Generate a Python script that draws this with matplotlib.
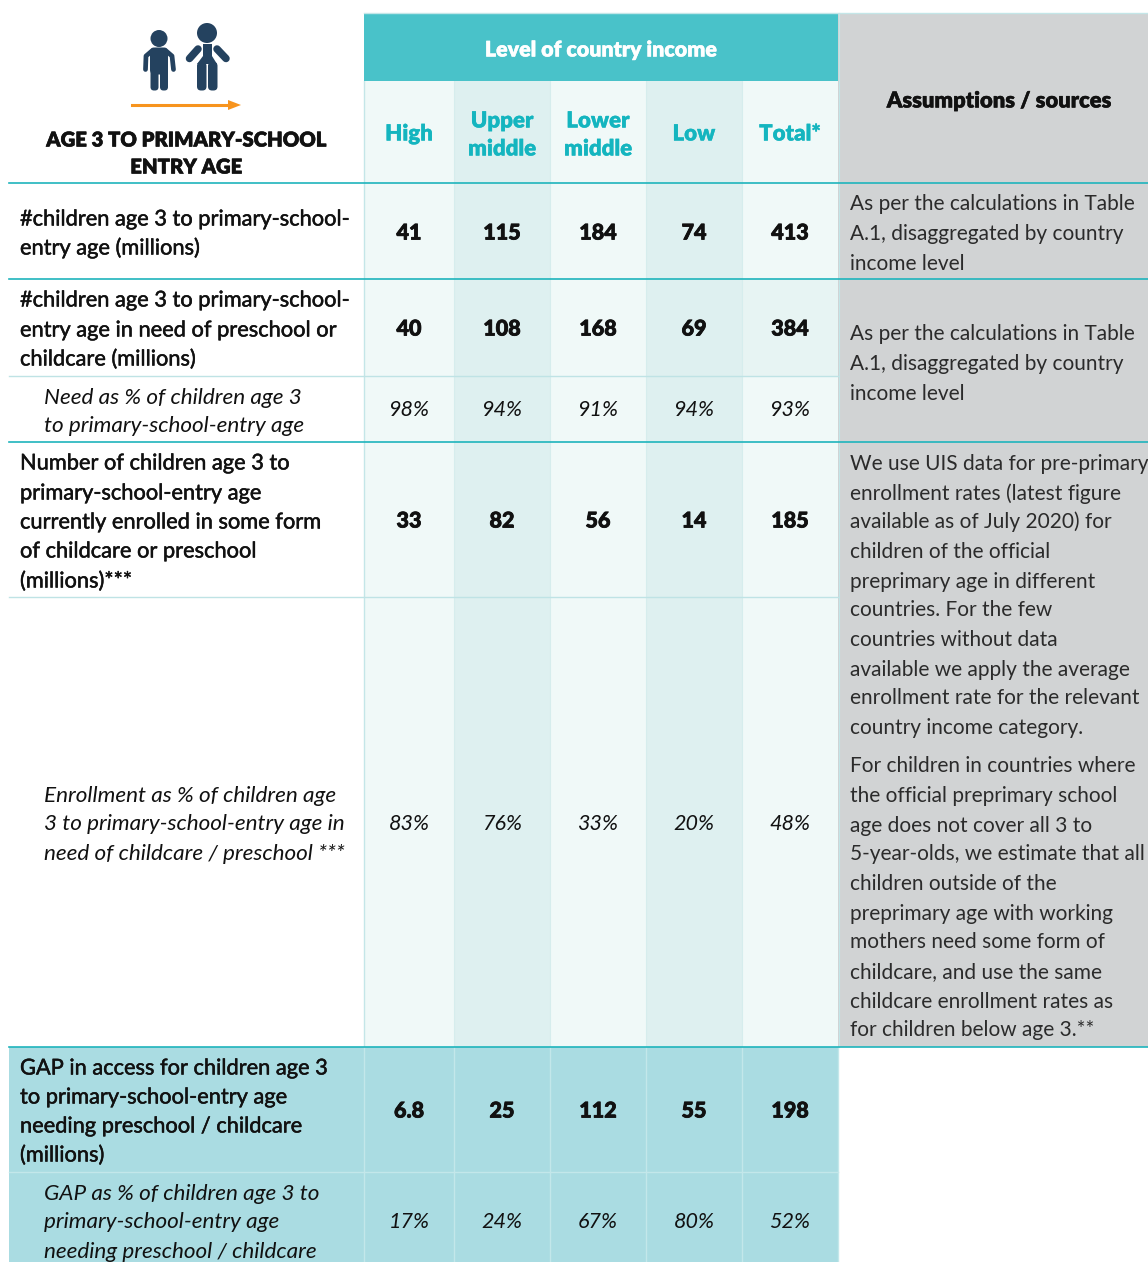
import matplotlib
matplotlib.use("Agg")
import matplotlib.pyplot as plt
import matplotlib.patheffects as pe
from matplotlib.patches import Rectangle, Circle, FancyBboxPatch, Polygon

plt.rcParams["font.family"] = ["Lato", "DejaVu Sans"]

# Data
income_levels = ["High", "Upper\nmiddle", "Lower\nmiddle", "Low", "Total*"]
children_total = ["41", "115", "184", "74", "413"]
children_need = ["40", "108", "168", "69", "384"]
need_pct = ["98%", "94%", "91%", "94%", "93%"]
enrolled = ["33", "82", "56", "14", "185"]
enrolled_pct = ["83%", "76%", "33%", "20%", "48%"]
gap = ["6.8", "25", "112", "55", "198"]
gap_pct = ["17%", "24%", "67%", "80%", "52%"]

row_labels = [
    ["#children age 3 to primary-school-", "entry age (millions)"],
    ["#children age 3 to primary-school-", "entry age in need of preschool or", "childcare (millions)"],
    ["Need as % of children age 3", "to primary-school-entry age"],
    ["Number of children age 3 to", "primary-school-entry age", "currently enrolled in some form", "of childcare or preschool", "(millions)***"],
    ["Enrollment as % of children age", "3 to primary-school-entry age in", "need of childcare / preschool ***"],
    ["GAP in access for children age 3", "to primary-school-entry age", "needing preschool / childcare", "(millions)"],
    ["GAP as % of children age 3 to", "primary-school-entry age", "needing preschool / childcare"],
]
label_y = [
    [218, 247],
    [299, 329, 358],
    [396, 425],
    [462, 492, 521, 550, 580],
    [794, 823, 853],
    [1067, 1096, 1125, 1154],
    [1192, 1221, 1250],
]
row_values = [children_total, children_need, need_pct, enrolled, enrolled_pct, gap, gap_pct]
value_y = [232, 328, 409, 520, 822, 1110, 1220]
italic_rows = [2, 4, 6]

source_lines = [
    ("As per the calculations in Table", 203), ("A.1, disaggregated by country", 233), ("income level", 262),
    ("As per the calculations in Table", 333), ("A.1, disaggregated by country", 363), ("income level", 392),
    ("We use UIS data for pre-primary", 462), ("enrollment rates (latest figure", 492),
    ("available as of July 2020) for", 521), ("children of the official", 550),
    ("preprimary age in different", 580), ("countries. For the few", 609),
    ("countries without data", 638), ("available we apply the average", 668),
    ("enrollment rate for the relevant", 697), ("country income category.", 727),
    ("For children in countries where", 765), ("the official preprimary school", 795),
    ("age does not cover all 3 to", 824), ("5-year-olds, we estimate that all", 853),
    ("children outside of the", 883), ("preprimary age with working", 912),
    ("mothers need some form of", 941), ("childcare, and use the same", 971),
    ("childcare enrollment rates as", 1000), ("for children below age 3.**", 1029),
]

col_edges = [364, 454, 550, 646, 742, 838]
col_centers = [409, 502, 598, 694, 790]

TEAL = "#49c2c9"
TEAL_TEXT = "#14b5bf"
RULE = "#1fb4bc"
LIGHT = "#f0f9f8"
MID = "#deF0f0"
GAPBG = "#aadce2"
GREY = "#d1d3d4"
NAVY = "#24425f"
ORANGE = "#f7941e"
TXT = "#111111"

fig = plt.figure(figsize=(11.48, 12.62), dpi=100)
ax = fig.add_axes([0, 0, 1, 1])
ax.set_xlim(0, 1148)
ax.set_ylim(1262, 0)
ax.axis("off")


def box(x0, y0, x1, y1, color, z=1):
    ax.add_patch(Rectangle((x0, y0), x1 - x0, y1 - y0, facecolor=color, edgecolor="none", zorder=z))


def put(x, y, s, size=15, weight="normal", style="normal", color=TXT, ha="left", stroke=0):
    # y is the middle of the line, so lines can be spaced by hand
    t = ax.text(x, y + 7.5, s, fontsize=size, fontweight=weight, fontstyle=style, color=color,
                ha=ha, va="baseline", zorder=5)
    if stroke:
        t.set_path_effects([pe.withStroke(linewidth=stroke, foreground=color)])


# column shading
for i in range(5):
    box(col_edges[i], 81, col_edges[i + 1], 1047, MID if i % 2 else LIGHT)
box(742, 279, 838, 376, "#e7f4f3")
for x in col_edges[1:5]:
    ax.plot([x, x], [81, 1047], color="#d6eded", lw=0.8, zorder=2)
ax.plot([364, 364], [81, 1047], color="#c4e6e8", lw=1, zorder=2)
ax.plot([364, 1148], [13, 13], color="#c4e6e8", lw=1, zorder=4)
box(364, 13, 838, 81, TEAL, 3)
box(838, 13, 1148, 1047, GREY)
ax.plot([838.5, 838.5], [13, 1047], color="#c4e6e8", lw=0.8, zorder=2)
box(9, 1047, 838, 1262, GAPBG)
for x in col_edges:
    ax.plot([x, x], [1047, 1262], color="#c3e7ea", lw=1, zorder=2)
ax.plot([9, 838], [1172, 1172], color="#c3e7ea", lw=1, zorder=2)

# rules
for y in [183, 279, 442, 1047]:
    ax.plot([9, 1148], [y, y], color=RULE, lw=1.2, zorder=4)
for y in [376, 597]:
    ax.plot([9, 838], [y, y], color="#bfe3e5", lw=1, zorder=4)

# icon: two children and the arrow
kw = dict(facecolor=NAVY, edgecolor="none", zorder=4)
ax.add_patch(Circle((159, 38.5), 8.5, **kw))
ax.add_patch(FancyBboxPatch((150, 47.5), 18, 27, boxstyle="round,pad=0,rounding_size=5", **kw))
ax.add_patch(FancyBboxPatch((150.5, 66), 8, 24.5, boxstyle="round,pad=0,rounding_size=3.5", **kw))
ax.add_patch(FancyBboxPatch((160, 66), 8, 24.5, boxstyle="round,pad=0,rounding_size=3.5", **kw))
ax.plot([153, 146, 145.5], [50, 56, 69.5], color=NAVY, lw=3.4, solid_capstyle="round", solid_joinstyle="round", zorder=4)
ax.plot([165, 172, 173.5], [50, 56, 69.5], color=NAVY, lw=3.4, solid_capstyle="round", solid_joinstyle="round", zorder=4)
ax.add_patch(Circle((207, 33), 10, **kw))
ax.add_patch(Polygon([[203, 44], [212, 44], [212, 56], [217, 64], [197, 64], [203, 56]], closed=True, **kw))
ax.add_patch(FancyBboxPatch((197, 62), 9.5, 28.5, boxstyle="round,pad=0,rounding_size=4", **kw))
ax.add_patch(FancyBboxPatch((208, 62), 9.5, 28.5, boxstyle="round,pad=0,rounding_size=4", **kw))
ax.plot([198, 189.5], [49, 58.5], color=NAVY, lw=5.4, solid_capstyle="round", zorder=4)
ax.plot([217, 226], [49, 58.5], color=NAVY, lw=5.4, solid_capstyle="round", zorder=4)
ax.plot([132, 230], [105, 105], color=ORANGE, lw=2.2, zorder=4)
ax.add_patch(Polygon([[228, 100], [241, 105], [228, 110]], closed=True, facecolor=ORANGE, edgecolor="none", zorder=4))

# headers
put(186, 139, "AGE 3 TO PRIMARY-SCHOOL", size=14.6, weight=800, ha="center", stroke=0.4)
put(186, 166, "ENTRY AGE", size=14.6, weight=800, ha="center", stroke=0.4)
put(601, 49, "Level of country income", size=15.4, weight=800, color="white", ha="center", stroke=0.3)
put(999, 100, "Assumptions / sources", size=15.8, weight=800, ha="center", stroke=0.3)
header_y = [[133], [120, 148], [120, 148], [133], [133]]
for cx, name, ys in zip(col_centers, income_levels, header_y):
    for line, y in zip(name.split("\n"), ys):
        put(cx, y, line, size=16, weight=800, color=TEAL_TEXT, ha="center", stroke=0.2)

# rows
for r, (lines, ys) in enumerate(zip(row_labels, label_y)):
    is_it = r in italic_rows
    for line, y in zip(lines, ys):
        if is_it:
            put(44, y, line, size=16.2, style="italic")
        else:
            put(20, y, line, size=15.7, stroke=0.35)
    for cx, v in zip(col_centers, row_values[r]):
        if is_it:
            put(cx, value_y[r], v, size=15.5, style="italic", ha="center")
        else:
            put(cx, value_y[r], v, size=15.5, weight=900, ha="center", stroke=0.6)

for line, y in source_lines:
    put(850, y, line, size=15, color="#2b2b2b")

fig.savefig("out.png", dpi=100)
